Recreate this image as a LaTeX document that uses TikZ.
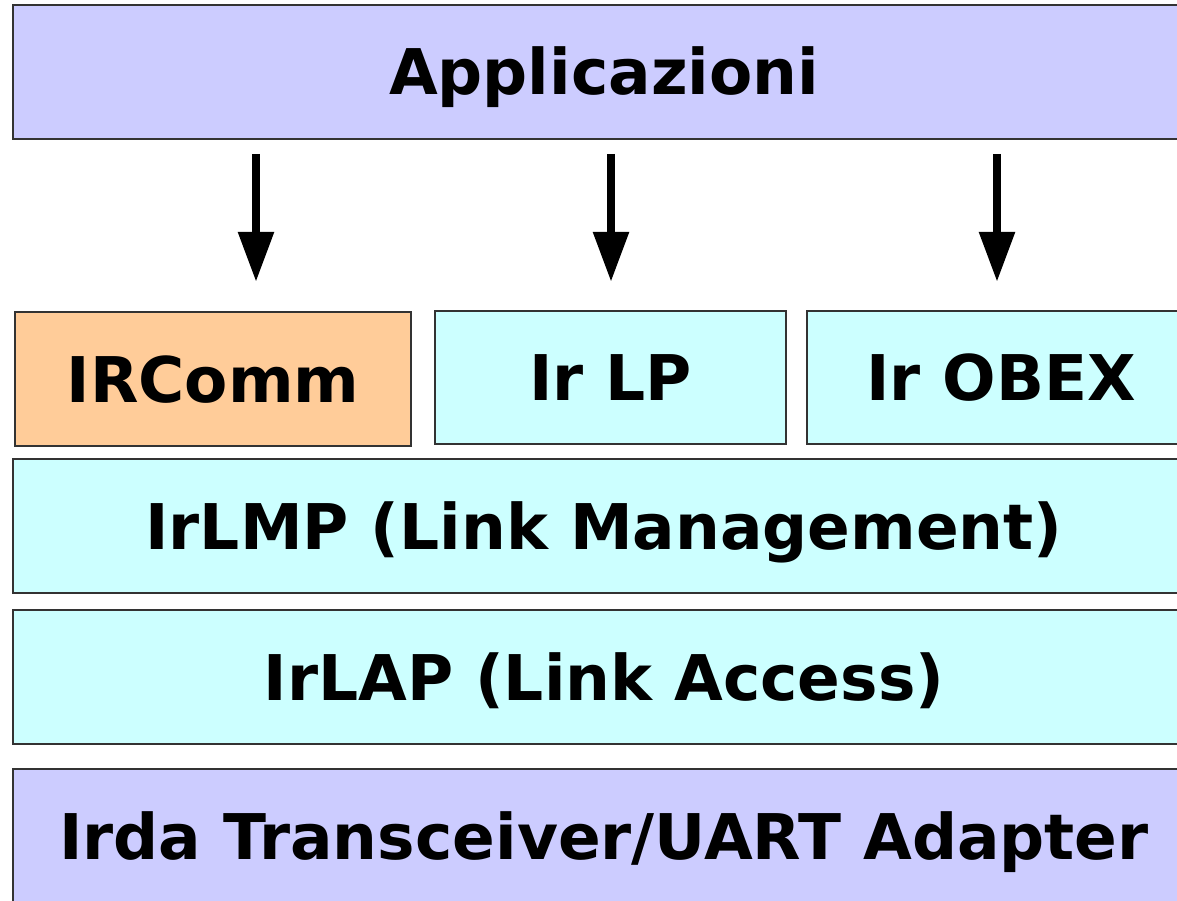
\documentclass[tikz,border=0pt]{standalone}
\usepackage{fontspec}
\setmainfont{DejaVu Sans}
\usetikzlibrary{arrows.meta}
\definecolor{lilac}{HTML}{CCCCFF}
\definecolor{cyanl}{HTML}{CCFFFF}
\definecolor{peach}{HTML}{FFCC99}
\definecolor{edge}{HTML}{333333}
\tikzset{
  layer/.style={draw=edge, line width=1.2pt, inner sep=0pt, anchor=center,
    font=\fontsize{63}{68}\selectfont\bfseries, text height=46pt, text depth=0pt},
  bigarrow/.style={line width=8.5pt, -{Triangle[length=50pt,width=34pt]}, line cap=butt}
}
\begin{document}
\begin{tikzpicture}[x=1pt,y=-1pt]
\useasboundingbox (0,0) rectangle (1177,901);
\clip (0,0) rectangle (1177,901);
\node[layer, fill=lilac, minimum width=1182pt, minimum height=134pt] (app) at (604,72) {Applicazioni};
\node[layer, fill=peach, minimum width=396pt, minimum height=134pt] (irc) at (213,379) {IRComm};
\node[layer, fill=cyanl, minimum width=351pt, minimum height=133pt] (irlp) at (610.5,377.5) {Ir LP};
\node[layer, fill=cyanl, minimum width=388pt, minimum height=133pt] (obex) at (1001,377.5) {Ir OBEX};
\node[layer, fill=cyanl, minimum width=1182pt, minimum height=134pt] (lmp) at (604,526) {IrLMP (Link Management)};
\node[layer, fill=cyanl, minimum width=1182pt, minimum height=134pt] (lap) at (604,677) {IrLAP (Link Access)};
\node[layer, fill=lilac, minimum width=1182pt, minimum height=134pt] (irda) at (604,836) {Irda Transceiver/UART Adapter};
\coordinate (s1) at (256,154); \coordinate (e1) at (256,282);
\coordinate (s2) at (611,154); \coordinate (e2) at (611,282);
\coordinate (s3) at (997,154); \coordinate (e3) at (997,282);
\draw[bigarrow] (s1) -- (e1);
\draw[bigarrow] (s2) -- (e2);
\draw[bigarrow] (s3) -- (e3);
\end{tikzpicture}
\end{document}
